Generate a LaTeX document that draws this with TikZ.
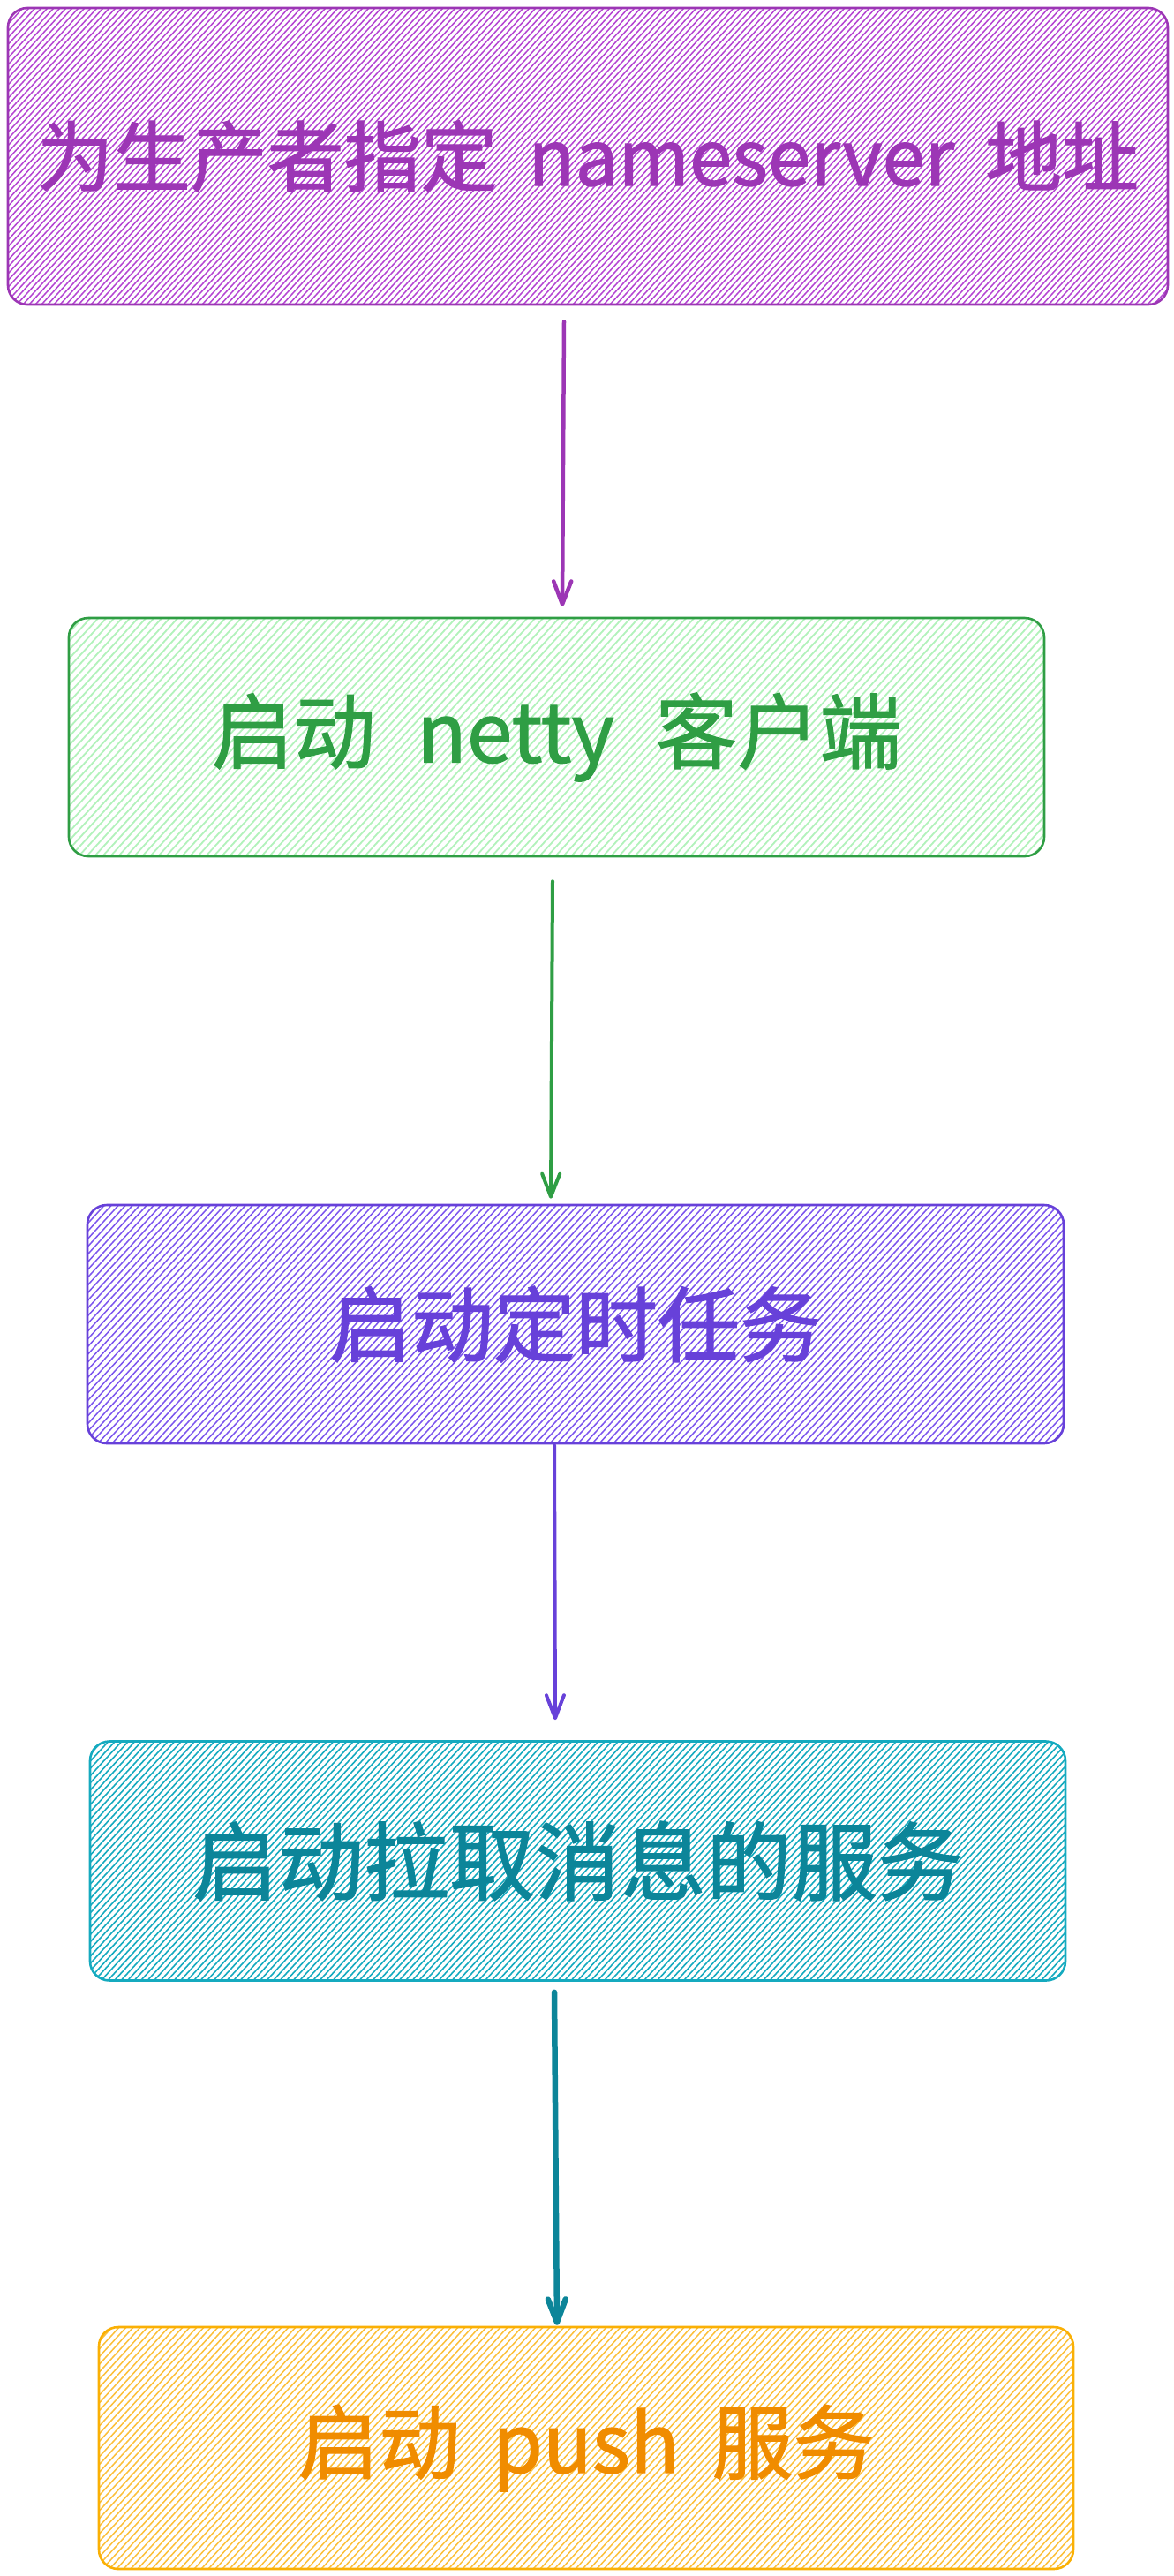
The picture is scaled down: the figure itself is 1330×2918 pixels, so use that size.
\documentclass[tikz,border=0pt]{standalone}
\usepackage{fontspec}
\newfontfamily\cjk[FakeBold=1.2]{Noto Sans CJK SC}
\usetikzlibrary{arrows.meta,calc}
\definecolor{grapeS}{HTML}{9C36B5}
\definecolor{grapeH}{HTML}{B445D2}
\definecolor{greenS}{HTML}{2F9E44}
\definecolor{greenH}{HTML}{B2F2BB}
\definecolor{violetS}{HTML}{6741D9}
\definecolor{violetH}{HTML}{7C55EE}
\definecolor{tealS}{HTML}{15AABF}
\definecolor{tealT}{HTML}{0C8599}
\definecolor{yelS}{HTML}{FAB005}
\definecolor{yelH}{HTML}{FCC03A}
\definecolor{orT}{HTML}{F08C00}
\newcommand\hatchfill[3]{%
  \foreach \i in {0,...,240}{%
    \draw[#1,line width=#3] ($(path picture bounding box.south west)+(\i*#2-340pt,0pt)$) -- ++(440pt,480pt);}}
\tikzset{
  flowbox/.style={rounded corners=22pt, line width=2.6pt, inner sep=0pt},
  flowarrow/.style={line width=#1, line cap=round, -{Straight Barb[length=26pt,width=20pt,round]}},
}
\begin{document}
\begin{tikzpicture}[x=1pt,y=-1pt]
\useasboundingbox[fill=white] (0,0) rectangle (1330,2918);

\node[flowbox, draw=grapeS, text=grapeS, minimum width=1314pt, minimum height=336pt,
  path picture={\hatchfill{grapeH}{7pt}{1.5pt}},
  font=\cjk\fontsize{87pt}{100pt}\selectfont] (b1) at (666,177)
  {为生产者指定\hspace{0.4em}nameserver\hspace{0.4em}地址};

\node[flowbox, draw=greenS, text=greenS, minimum width=1105pt, minimum height=270pt,
  path picture={\hatchfill{greenH}{9pt}{1.8pt}},
  font=\cjk\fontsize{93pt}{100pt}\selectfont] (b2) at (630.5,835)
  {启动\hspace{0.5em}netty\hspace{0.5em}客户端};

\node[flowbox, draw=violetS, text=violetS, minimum width=1106pt, minimum height=270pt,
  path picture={\hatchfill{violetH}{8pt}{1.5pt}},
  font=\cjk\fontsize{93pt}{100pt}\selectfont] (b3) at (652,1500)
  {启动定时任务};

\node[flowbox, draw=tealS, text=tealT, minimum width=1105pt, minimum height=271pt,
  path picture={\hatchfill{tealS}{7.5pt}{1.6pt}},
  font=\cjk\fontsize{97pt}{100pt}\selectfont] (b4) at (654.5,2108)
  {启动拉取消息的服务};

\node[flowbox, draw=yelS, text=orT, minimum width=1104pt, minimum height=274pt,
  path picture={\hatchfill{yelH}{8pt}{1.5pt}},
  font=\cjk\fontsize{92pt}{100pt}\selectfont] (b5) at (664,2773)
  {启动\hspace{0.4em}push\hspace{0.4em}服务};

\draw[flowarrow=4.5pt, grapeS] ([xshift=-27pt,yshift=-18pt]b1.south) -- ([xshift=6.5pt,yshift=12pt]b2.north);
\draw[flowarrow=4pt, greenS] ([xshift=-4.5pt,yshift=-27pt]b2.south) -- ([xshift=-28pt,yshift=6pt]b3.north);
\draw[flowarrow=4pt, violetS] ([xshift=-24pt,yshift=-1pt]b3.south) -- ([xshift=-25.5pt,yshift=23pt]b4.north);
\draw[flowarrow=6.5pt, tealT] ([xshift=-26.5pt,yshift=-12pt]b4.south) -- ([xshift=-33pt,yshift=1pt]b5.north);
\end{tikzpicture}
\end{document}
